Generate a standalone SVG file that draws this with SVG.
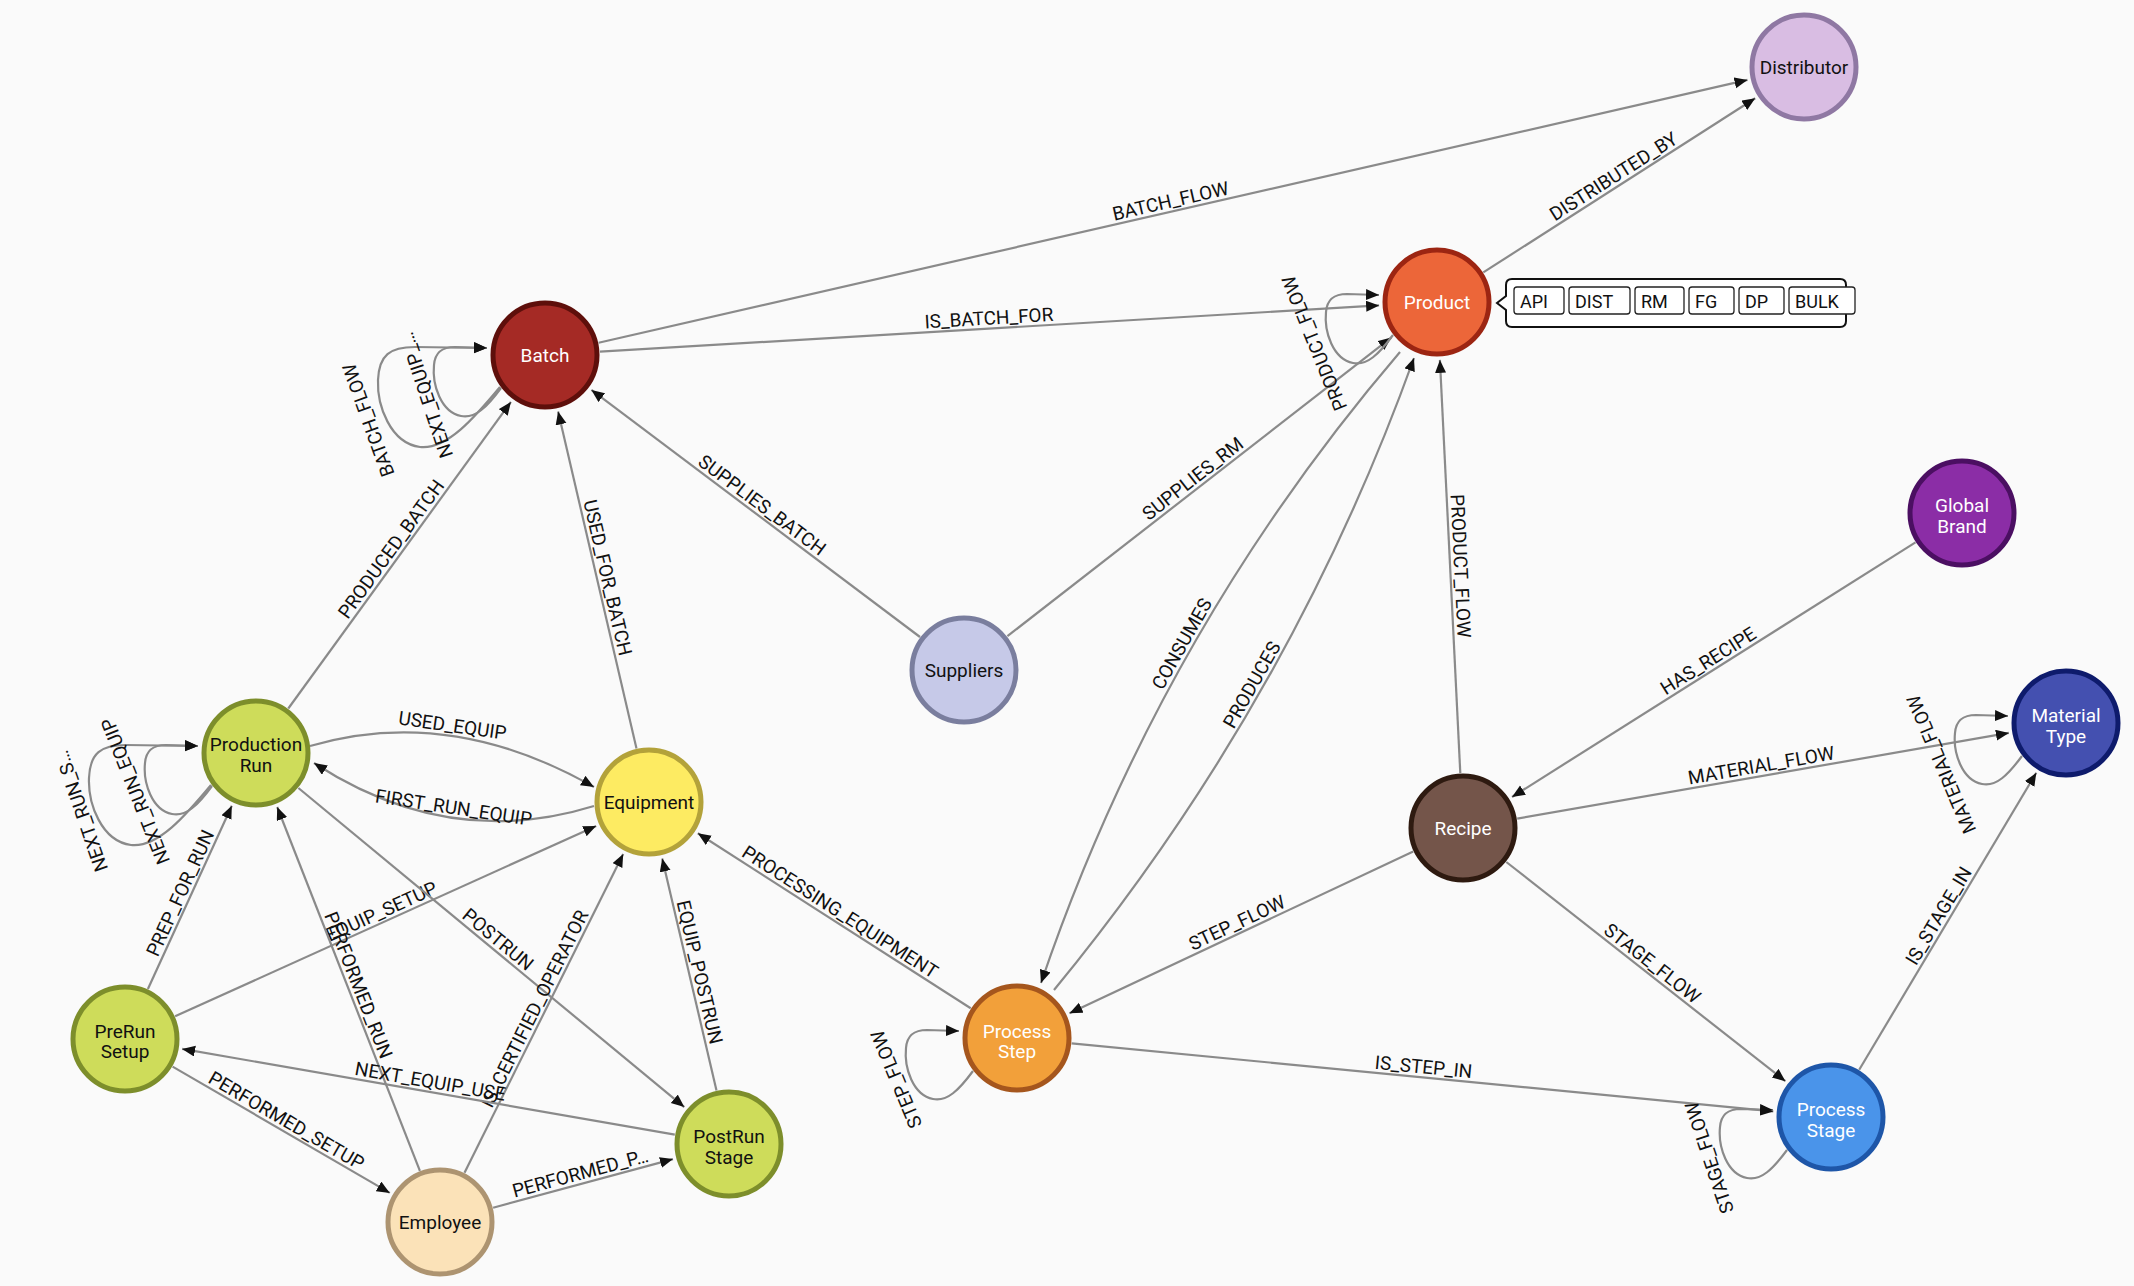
<svg xmlns="http://www.w3.org/2000/svg" width="2134" height="1286" viewBox="0 0 2134 1286">
<style>
.edge{fill:none;stroke:#8a8a8a;stroke-width:2.2;marker-end:url(#arrow)}
.el{font-family:Roboto,"Liberation Sans",sans-serif;font-size:19px;fill:#111;text-anchor:middle}
.nl{font-family:Roboto,"Liberation Sans",sans-serif;font-size:19px;text-anchor:middle;dominant-baseline:central}
.node circle{stroke-width:5}
.w{fill:#fff}.k{fill:#111}
.chip{fill:#fff;stroke:#222;stroke-width:1.3}
.ct{font-family:Roboto,"Liberation Sans",sans-serif;font-size:18px;fill:#111;dominant-baseline:central}
</style>
<defs>
<marker id="arrow" markerUnits="userSpaceOnUse" markerWidth="14" markerHeight="12" refX="13" refY="5.5" orient="auto">
<path d="M0,0 L13,5.5 L0,11 Z" fill="#111"/>
</marker>
</defs>
<rect width="2134" height="1286" fill="#fafafa"/>
<g id="connectors">
<path class="edge" d="M598.6 342.7 L1747.5 79.9"/>
<text class="el" transform="translate(1173,211.3) rotate(-12.9)" y="-4">BATCH_FLOW</text>
<path class="edge" d="M600 351.7 L1379.1 305.4"/>
<text class="el" transform="translate(989.5,328.6) rotate(-3.4)" y="-4">IS_BATCH_FOR</text>
<path class="edge" d="M1483.3 272.4 L1755.2 98.3"/>
<text class="el" transform="translate(1619.2,185.3) rotate(-32.6)" y="-4">DISTRIBUTED_BY</text>
<path class="edge" d="M1007.4 636.2 L1391.2 337.6"/>
<text class="el" transform="translate(1199.3,486.9) rotate(-37.9)" y="-4">SUPPLIES_RM</text>
<path class="edge" d="M920 637 L591.4 389.9"/>
<text class="el" transform="translate(755.7,513.5) rotate(36.9)" y="-4">SUPPLIES_BATCH</text>
<path class="edge" d="M1460.3 773.1 L1439.9 359.9"/>
<text class="el" transform="translate(1450.1,566.5) rotate(87.2)" y="-4">PRODUCT_FLOW</text>
<path class="edge" d="M1915.5 542.4 L1512 797"/>
<text class="el" transform="translate(1713.8,669.7) rotate(-32.3)" y="-4">HAS_RECIPE</text>
<path class="edge" d="M1517.2 818.6 L2008.9 732.9"/>
<text class="el" transform="translate(1763,775.8) rotate(-9.9)" y="-4">MATERIAL_FLOW</text>
<path class="edge" d="M1859.2 1069.8 L2036.3 772.8"/>
<text class="el" transform="translate(1947.7,921.3) rotate(-59.2)" y="-4">IS_STAGE_IN</text>
<path class="edge" d="M1506.3 862 L1785.4 1081.2"/>
<text class="el" transform="translate(1645.8,971.6) rotate(38.1)" y="-4">STAGE_FLOW</text>
<path class="edge" d="M1413.2 851.4 L1069.5 1013.3"/>
<text class="el" transform="translate(1241.4,932.4) rotate(-25.2)" y="-4">STEP_FLOW</text>
<path class="edge" d="M1071.7 1043.3 L1773.3 1111.4"/>
<text class="el" transform="translate(1422.5,1077.4) rotate(5.5)" y="-4">IS_STEP_IN</text>
<path class="edge" d="M970.7 1008.3 L697.8 833.3"/>
<text class="el" transform="translate(834.3,920.8) rotate(32.7)" y="-4">PROCESSING_EQUIPMENT</text>
<path class="edge" d="M636.5 748.4 L558.1 411.5"/>
<text class="el" transform="translate(597.3,580) rotate(76.9)" y="-4">USED_FOR_BATCH</text>
<path class="edge" d="M288.3 708.5 L510.9 401.9"/>
<text class="el" transform="translate(399.6,555.2) rotate(-54)" y="-4">PRODUCED_BATCH</text>
<path class="edge" d="M147.9 989 L231.8 805.7"/>
<text class="el" transform="translate(189.9,897.4) rotate(-65.4)" y="-4">PREP_FOR_RUN</text>
<path class="edge" d="M175.1 1016.3 L596.2 825.9"/>
<text class="el" transform="translate(385.7,921.1) rotate(-24.3)" y="-4">EQUIP_SETUP</text>
<path class="edge" d="M298.4 788 L684.3 1107.1"/>
<text class="el" transform="translate(491.3,947.6) rotate(39.6)" y="-4">POSTRUN</text>
<path class="edge" d="M419.9 1170.8 L277.2 807"/>
<text class="el" transform="translate(348.6,988.9) rotate(68.6)" y="-4">PERFORMED_RUN</text>
<path class="edge" d="M464.5 1172.8 L623.2 853.9"/>
<text class="el" transform="translate(543.9,1013.4) rotate(-63.5)" y="-4">IS_CERTIFIED_OPERATOR</text>
<path class="edge" d="M716.5 1090.4 L662.2 858.5"/>
<text class="el" transform="translate(689.3,974.5) rotate(76.8)" y="-4">EQUIP_POSTRUN</text>
<path class="edge" d="M674.8 1134.6 L182.1 1048.9"/>
<text class="el" transform="translate(428.5,1091.8) rotate(9.9)" y="-4">NEXT_EQUIP_USE</text>
<path class="edge" d="M172.6 1066.6 L389.8 1192.9"/>
<text class="el" transform="translate(281.2,1129.8) rotate(30.2)" y="-4">PERFORMED_SETUP</text>
<path class="edge" d="M493.1 1207.7 L673 1159.1"/>
<text class="el" transform="translate(583,1183.4) rotate(-15.1)" y="-4">PERFORMED_P…</text>
<path class="edge" d="M310 746 Q450 705 594 787"/>
<text class="el" transform="translate(451,736) rotate(8.2)" y="-4">USED_EQUIP</text>
<path class="edge" d="M594 806 Q449 851 314 763"/>
<text class="el" transform="translate(452,818) rotate(8.6)" y="-4">FIRST_RUN_EQUIP</text>
<path class="edge" d="M1400 352 Q1160.5 632 1041 983"/>
<text class="el" transform="translate(1191,649) rotate(-60.4)" y="-4">CONSUMES</text>
<path class="edge" d="M1054 990 Q1289.8 703.5 1414 358"/>
<text class="el" transform="translate(1261,690) rotate(-60.3)" y="-4">PRODUCES</text>
<g transform="translate(545,355)">
<path class="edge" d="M-45 32 C-70 62 -98 95 -125 92 C-155 88 -168 50 -167 25 C-166 0 -155 -8 -130 -8 L-58 -7"/>
<path class="edge" d="M-44 33 C-58 52 -70 64 -84 61 C-104 57 -113 30 -111 10 C-110 -3 -103 -8 -90 -8 L-58 -7"/>
<text class="el" transform="translate(-176,65) rotate(-109.7)" y="6">BATCH_FLOW</text>
<text class="el" transform="translate(-118,40) rotate(-108.3)" y="6">NEXT_EQUIP_…</text>
</g>
<g transform="translate(256,753)">
<path class="edge" d="M-45 32 C-70 62 -98 95 -125 92 C-155 88 -168 50 -167 25 C-166 0 -155 -8 -130 -8 L-58 -7"/>
<path class="edge" d="M-44 33 C-58 52 -70 64 -84 61 C-104 57 -113 30 -111 10 C-110 -3 -103 -8 -90 -8 L-58 -7"/>
<text class="el" transform="translate(-174,58) rotate(-109)" y="6">NEXT_RUN_S…</text>
<text class="el" transform="translate(-120,38) rotate(-111.7)" y="6">NEXT_RUN_EQUIP</text>
</g>
<g transform="translate(1437,302)">
<path class="edge" d="M-44 33 C-58 52 -70 64 -84 61 C-104 57 -113 30 -111 10 C-110 -3 -103 -8 -90 -8 L-58 -7"/>
<text class="el" transform="translate(-122,41) rotate(-112)" y="6">PRODUCT_FLOW</text>
</g>
<g transform="translate(2066,723)">
<path class="edge" d="M-44 33 C-58 52 -70 64 -84 61 C-104 57 -113 30 -111 10 C-110 -3 -103 -8 -90 -8 L-58 -7"/>
<text class="el" transform="translate(-124,41) rotate(-113)" y="6">MATERIAL_FLOW</text>
</g>
<g transform="translate(1017,1038)">
<path class="edge" d="M-44 33 C-58 52 -70 64 -84 61 C-104 57 -113 30 -111 10 C-110 -3 -103 -8 -90 -8 L-58 -7"/>
<text class="el" transform="translate(-120,41) rotate(-112.7)" y="6">STEP_FLOW</text>
</g>
<g transform="translate(1831,1117)">
<path class="edge" d="M-44 33 C-58 52 -70 64 -84 61 C-104 57 -113 30 -111 10 C-110 -3 -103 -8 -90 -8 L-58 -7"/>
<text class="el" transform="translate(-121,40.5) rotate(-108.5)" y="6">STAGE_FLOW</text>
</g>
</g>
<g id="nodes">
<g id="node-distributor" class="node"><circle cx="1804" cy="67" r="52" fill="#d9bde3" stroke="#8f78a3"/><text class="nl k" x="1804" y="67">Distributor</text></g>
<g id="node-product" class="node"><circle cx="1437" cy="302" r="52" fill="#ec6639" stroke="#9c2512"/><text class="nl w" x="1437" y="302">Product</text>
<path d="M1512 279 L1840 279 Q1846 279 1846 285 L1846 321 Q1846 327 1840 327 L1512 327 Q1506 327 1506 321 L1506 310 L1497 303 L1506 296 L1506 285 Q1506 279 1512 279 Z" fill="#fff" stroke="#111" stroke-width="2"/>
<rect class="chip" x="1514" y="287" width="50" height="27" rx="3"/><text class="ct" x="1520" y="301">API</text>
<rect class="chip" x="1569" y="287" width="61" height="27" rx="3"/><text class="ct" x="1575" y="301">DIST</text>
<rect class="chip" x="1635" y="287" width="49" height="27" rx="3"/><text class="ct" x="1641" y="301">RM</text>
<rect class="chip" x="1689" y="287" width="45" height="27" rx="3"/><text class="ct" x="1695" y="301">FG</text>
<rect class="chip" x="1739" y="287" width="45" height="27" rx="3"/><text class="ct" x="1745" y="301">DP</text>
<rect class="chip" x="1789" y="287" width="66" height="27" rx="3"/><text class="ct" x="1795" y="301">BULK</text>
</g>
<g id="node-batch" class="node"><circle cx="545" cy="355" r="52" fill="#a52a25" stroke="#5e0f0b"/><text class="nl w" x="545" y="355">Batch</text></g>
<g id="node-global-brand" class="node"><circle cx="1962" cy="513" r="52" fill="#8b2da6" stroke="#4b0f62"/><text class="nl w" x="1962" y="505.5">Global</text><text class="nl w" x="1962" y="526">Brand</text></g>
<g id="node-suppliers" class="node"><circle cx="964" cy="670" r="52" fill="#c6c9e8" stroke="#7a7e9e"/><text class="nl k" x="964" y="670">Suppliers</text></g>
<g id="node-material-type" class="node"><circle cx="2066" cy="723" r="52" fill="#4450b0" stroke="#0e1b6c"/><text class="nl w" x="2066" y="715.5">Material</text><text class="nl w" x="2066" y="736">Type</text></g>
<g id="node-production-run" class="node"><circle cx="256" cy="753" r="52" fill="#cedc5a" stroke="#7d8e2b"/><text class="nl k" x="256" y="744.5">Production</text><text class="nl k" x="256" y="765">Run</text></g>
<g id="node-equipment" class="node"><circle cx="649" cy="802" r="52" fill="#fdeb62" stroke="#b3a23a"/><text class="nl k" x="649" y="802">Equipment</text></g>
<g id="node-recipe" class="node"><circle cx="1463" cy="828" r="52" fill="#74554a" stroke="#2e1a10"/><text class="nl w" x="1463" y="828">Recipe</text></g>
<g id="node-process-step" class="node"><circle cx="1017" cy="1038" r="52" fill="#f2a03a" stroke="#a5561d"/><text class="nl w" x="1017" y="1031">Process</text><text class="nl w" x="1017" y="1051.5">Step</text></g>
<g id="node-prerun-setup" class="node"><circle cx="125" cy="1039" r="52" fill="#cedc5a" stroke="#7d8e2b"/><text class="nl k" x="125" y="1031">PreRun</text><text class="nl k" x="125" y="1051.5">Setup</text></g>
<g id="node-postrun-stage" class="node"><circle cx="729" cy="1144" r="52" fill="#cedc5a" stroke="#7d8e2b"/><text class="nl k" x="729" y="1136.5">PostRun</text><text class="nl k" x="729" y="1157">Stage</text></g>
<g id="node-employee" class="node"><circle cx="440" cy="1222" r="52" fill="#fbe2b8" stroke="#ad9471"/><text class="nl k" x="440" y="1222">Employee</text></g>
<g id="node-process-stage" class="node"><circle cx="1831" cy="1117" r="52" fill="#4a94ea" stroke="#1e56a8"/><text class="nl w" x="1831" y="1109.5">Process</text><text class="nl w" x="1831" y="1130">Stage</text></g>
</g>
</svg>
